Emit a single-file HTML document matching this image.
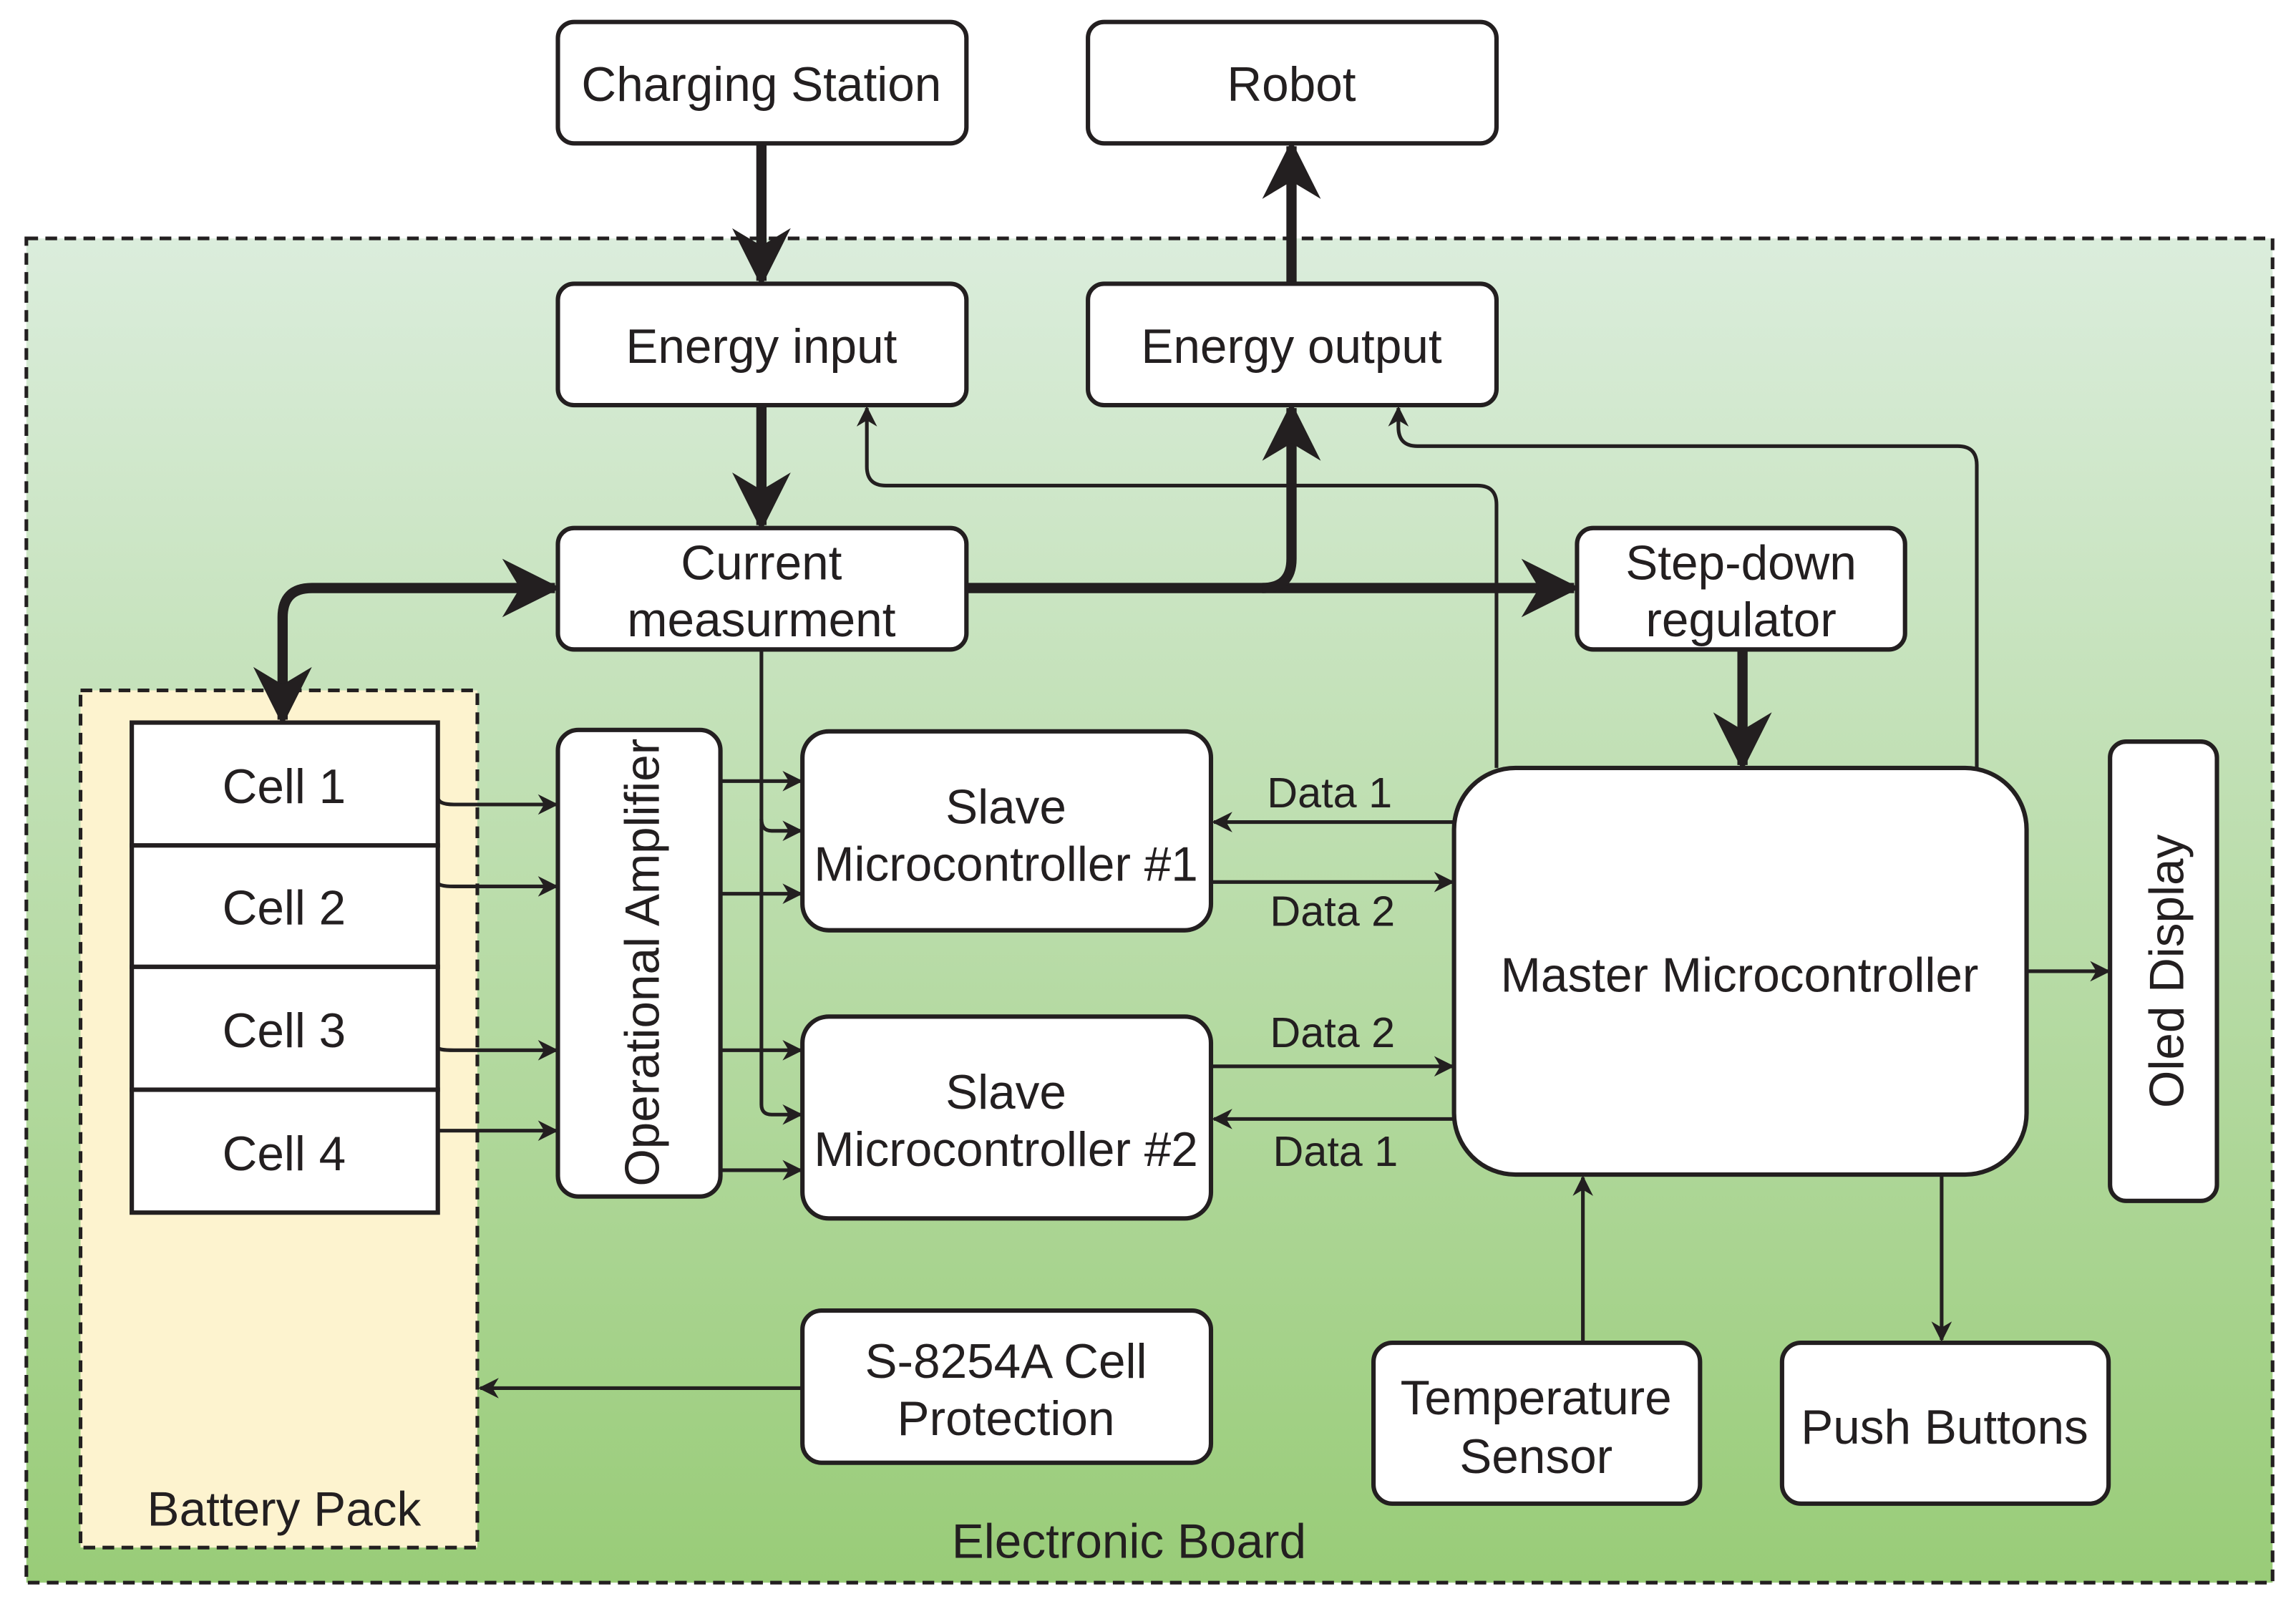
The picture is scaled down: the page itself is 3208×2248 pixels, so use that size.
<!DOCTYPE html>
<html><head><meta charset="utf-8"><style>html,body{margin:0;padding:0;background:#fff}svg{display:block}text{font-family:"Liberation Sans",sans-serif;fill:#231f20}</style></head><body>
<svg width="3208" height="2248" viewBox="0 0 1568 1100" preserveAspectRatio="none" xmlns="http://www.w3.org/2000/svg">
<defs>
<linearGradient id="g" x1="0" y1="0" x2="0" y2="1"><stop offset="0" stop-color="#dbeddc"/><stop offset="1" stop-color="#99cc78"/></linearGradient>
<marker id="s" viewBox="0 0 10 10" refX="9" refY="5" markerWidth="16" markerHeight="14" orient="auto-start-reverse" markerUnits="userSpaceOnUse"><path d="M0,0 L10,5 L0,10 L3,5 z" fill="#231f20"/></marker>
<marker id="b" viewBox="0 0 10 10" refX="9" refY="5" markerWidth="44" markerHeight="40" orient="auto-start-reverse" markerUnits="userSpaceOnUse"><path d="M0,0 L10,5 L0,10 L3,5 z" fill="#231f20"/></marker>
</defs>
<rect x="18" y="163" width="1534" height="919" fill="url(#g)" stroke="#231f20" stroke-width="2.5" stroke-dasharray="8,5"/>
<rect x="55" y="472" width="271" height="586" fill="#fdf3cf" stroke="#231f20" stroke-width="2.5" stroke-dasharray="8,5"/>
<g fill="none" stroke="#231f20">
<g stroke-width="7">
<line x1="520" y1="98" x2="520" y2="192" marker-end="url(#b)"/>
<line x1="520" y1="277" x2="520" y2="359" marker-end="url(#b)"/>
<line x1="882" y1="194" x2="882" y2="100" marker-end="url(#b)"/>
<line x1="660" y1="402" x2="1075" y2="402" marker-end="url(#b)"/>
<path d="M862,402 Q882,402 882,382 L882,279" marker-end="url(#b)"/>
<path d="M379,402 L213,402 Q193,402 193,422 L193,492" marker-start="url(#b)" marker-end="url(#b)"/>
<line x1="1190" y1="444" x2="1190" y2="523" marker-end="url(#b)"/>
</g>
<g stroke-width="2.5">
<path d="M1022,525 L1022,345 Q1022,332 1009,332 L605,332 Q592,332 592,319 L592,279" marker-end="url(#s)"/>
<path d="M1350,525 L1350,318 Q1350,305 1337,305 L968,305 Q955,305 955,292 L955,279" marker-end="url(#s)"/>
<path d="M299,545 Q299,550 310,550 L380,550" marker-end="url(#s)"/>
<path d="M299,603 Q299,606 310,606 L380,606" marker-end="url(#s)"/>
<path d="M299,716 Q299,718 310,718 L380,718" marker-end="url(#s)"/>
<path d="M299,773 Q299,773 310,773 L380,773" marker-end="url(#s)"/>
<line x1="492" y1="534" x2="547" y2="534" marker-end="url(#s)"/>
<line x1="492" y1="611" x2="547" y2="611" marker-end="url(#s)"/>
<line x1="492" y1="718" x2="547" y2="718" marker-end="url(#s)"/>
<line x1="492" y1="800" x2="547" y2="800" marker-end="url(#s)"/>
<path d="M520,444 L520,755 Q520,762 527,762 L547,762" marker-end="url(#s)"/>
<path d="M520,560 Q520,568 527,568 L547,568" marker-end="url(#s)"/>
<line x1="993" y1="562" x2="829" y2="562" marker-end="url(#s)"/>
<line x1="827" y1="603" x2="992" y2="603" marker-end="url(#s)"/>
<line x1="827" y1="729" x2="992" y2="729" marker-end="url(#s)"/>
<line x1="993" y1="765" x2="829" y2="765" marker-end="url(#s)"/>
<line x1="1384" y1="664" x2="1440" y2="664" marker-end="url(#s)"/>
<line x1="1081" y1="918" x2="1081" y2="805" marker-end="url(#s)"/>
<line x1="1326" y1="803" x2="1326" y2="916" marker-end="url(#s)"/>
<line x1="548" y1="949" x2="328" y2="949" marker-end="url(#s)"/>
</g>
</g>
<g fill="#fff" stroke="#231f20" stroke-width="3">
<rect x="381" y="15" width="279" height="83" rx="11"/>
<rect x="743" y="15" width="279" height="83" rx="11"/>
<rect x="381" y="194" width="279" height="83" rx="11"/>
<rect x="743" y="194" width="279" height="83" rx="11"/>
<rect x="381" y="361" width="279" height="83" rx="11"/>
<rect x="1077" y="361" width="224" height="83" rx="11"/>
<rect x="90" y="494" width="209" height="84"/>
<rect x="90" y="578" width="209" height="83"/>
<rect x="90" y="661" width="209" height="84"/>
<rect x="90" y="745" width="209" height="84"/>
<rect x="381" y="499" width="111" height="319" rx="14"/>
<rect x="548" y="500" width="279" height="136" rx="18"/>
<rect x="548" y="695" width="279" height="138" rx="18"/>
<rect x="993" y="525" width="391" height="278" rx="42"/>
<rect x="1441" y="507" width="73" height="314" rx="11"/>
<rect x="548" y="896" width="279" height="104" rx="13"/>
<rect x="938" y="918" width="223" height="110" rx="13"/>
<rect x="1217" y="918" width="223" height="110" rx="13"/>
</g>
<g font-size="33" text-anchor="middle">
<text x="520" y="69">Charging Station</text>
<text x="882" y="69">Robot</text>
<text x="520" y="248">Energy input</text>
<text x="882" y="248">Energy output</text>
<text x="520" y="396">Current</text>
<text x="520" y="435">measurment</text>
<text x="1189" y="396">Step-down</text>
<text x="1189" y="435">regulator</text>
<text x="194" y="549">Cell 1</text>
<text x="194" y="632">Cell 2</text>
<text x="194" y="716">Cell 3</text>
<text x="194" y="800">Cell 4</text>
<text transform="translate(450,658) rotate(-90)">Operational Amplifier</text>
<text x="687" y="563">Slave</text>
<text x="687" y="602">Microcontroller #1</text>
<text x="687" y="758">Slave</text>
<text x="687" y="797">Microcontroller #2</text>
<text x="1188" y="678">Master Microcontroller</text>
<text transform="translate(1491,664) rotate(-90)">Oled Display</text>
<text x="687" y="942">S-8254A Cell</text>
<text x="687" y="981">Protection</text>
<text x="1049" y="967">Temperature</text>
<text x="1049" y="1007">Sensor</text>
<text x="1328" y="987">Push Buttons</text>
<text x="194" y="1043">Battery Pack</text>
<text x="771" y="1065">Electronic Board</text>
</g>
<g font-size="29" text-anchor="middle">
<text x="908" y="552">Data 1</text>
<text x="910" y="633">Data 2</text>
<text x="910" y="716">Data 2</text>
<text x="912" y="797">Data 1</text>
</g>
</svg>
</body></html>
